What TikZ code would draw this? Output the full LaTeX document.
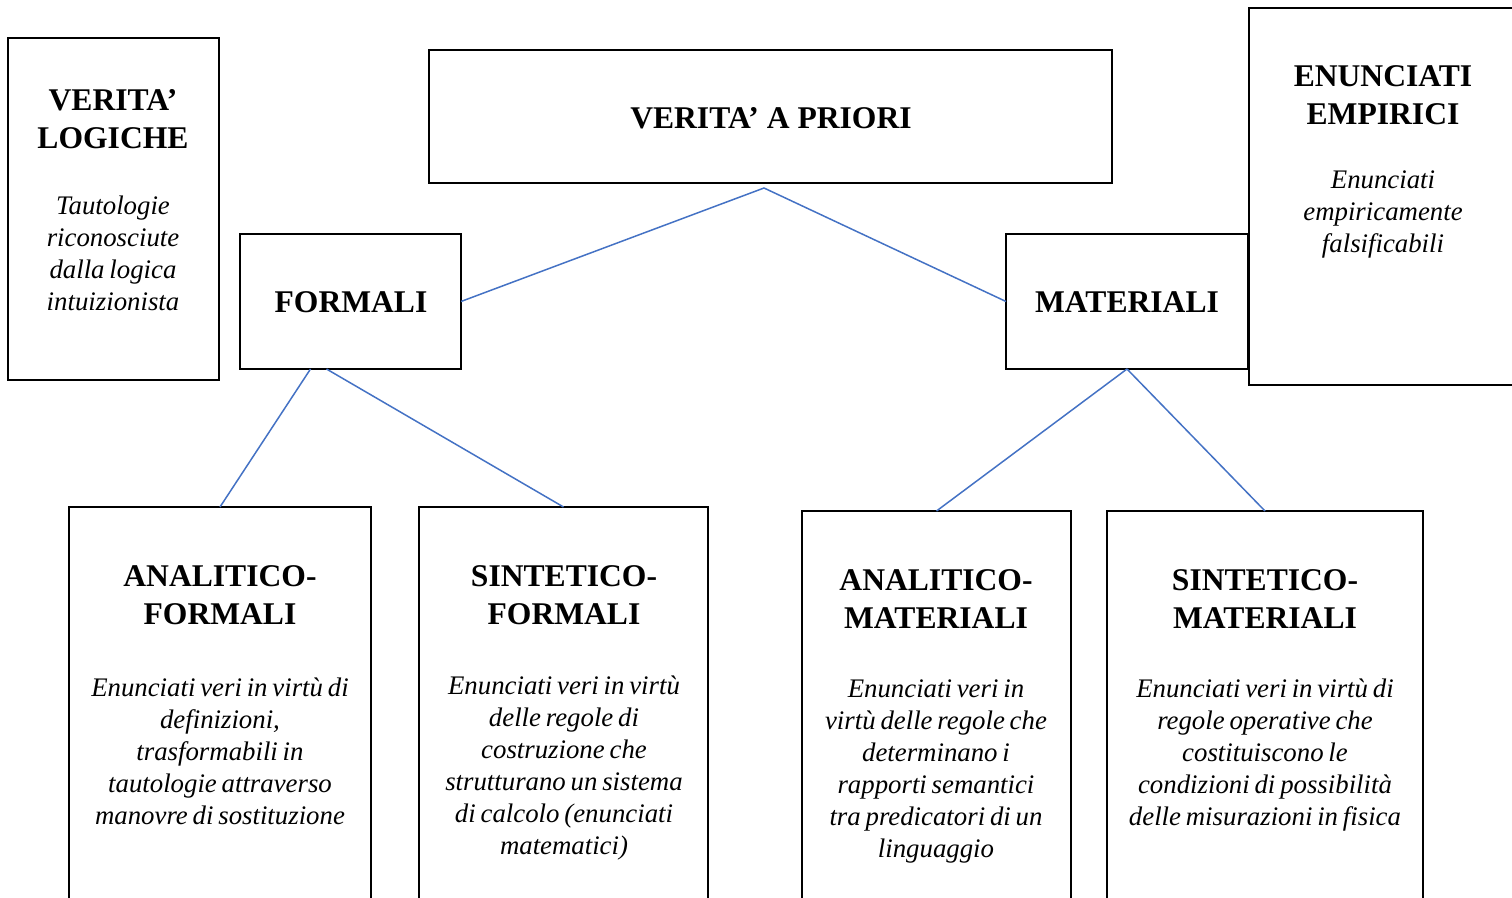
\documentclass[tikz,border=0pt]{standalone}
\usepackage{fontspec}
\setmainfont{Liberation Serif}
\usetikzlibrary{fit}
\definecolor{linkblue}{RGB}{68,114,196}
\newcommand\mydscfont{\fontsize{13.4}{16}\selectfont\itshape\spaceskip=0.18em plus 0.05em\relax}
\begin{document}
\begin{tikzpicture}[x=0.5pt,y=-0.5pt,
 box/.style={draw,line width=1pt,inner sep=0pt,outer sep=0pt},
 ttl/.style={font=\fontsize{15.8}{19}\selectfont\bfseries,align=center,inner sep=0pt},
 dsc/.style={font=\mydscfont,align=center,inner sep=0pt},
 link/.style={draw=linkblue,line width=0.75pt}]
\useasboundingbox (0,0) rectangle (1512,898);
\clip (0,0) rectangle (1512,898);
% boxes
\node[box,fit={(8,38) (219,380)}] (vl) {};
\node[box,fit={(429,50) (1112,183)}] (vap) {};
\node[box,fit={(240,234) (461,369)}] (formali) {};
\node[box,fit={(1006,234) (1248,369)}] (materiali) {};
\node[box,fit={(1249,8) (1530,385)}] (ee) {};
\node[box,fit={(69,507) (371,920)}] (af) {};
\node[box,fit={(419,507) (708,920)}] (sf) {};
\node[box,fit={(802,511) (1071,920)}] (am) {};
\node[box,fit={(1107,511) (1423,920)}] (sm) {};
% texts
\node[ttl] (vlT) at (113,119) {VERITA’\\LOGICHE};
\node[dsc] (vlD) at (113,253) {Tautologie\\riconosciute\\dalla logica\\intuizionista};
\node[ttl] (vapT) at (771,118) {VERITA’ A PRIORI};
\node[ttl] (formaliT) at (351,302) {FORMALI};
\node[ttl] (materialiT) at (1127,302) {MATERIALI};
\node[ttl] (eeT) at (1383,95) {ENUNCIATI\\EMPIRICI};
\node[dsc] (eeD) at (1383,214) {Enunciati\\empiricamente\\falsificabili};
\node[ttl] (afT) at (220,595) {ANALITICO-\\FORMALI};
\node[dsc] (afD) at (220,751) {Enunciati veri in virtù di\\definizioni,\\trasformabili in\\tautologie attraverso\\manovre di sostituzione};
\node[ttl] (sfT) at (564,595) {SINTETICO-\\FORMALI};
\node[dsc] (sfD) at (564,768) {Enunciati veri in virtù\\delle regole di\\costruzione che\\strutturano un sistema\\di calcolo (enunciati\\matematici)};
\node[ttl] (amT) at (936,599) {ANALITICO-\\MATERIALI};
\node[dsc] (amD) at (936,771) {Enunciati veri in\\virtù delle regole che\\determinano i\\rapporti semantici\\tra predicatori di un\\linguaggio};
\node[ttl] (smT) at (1265,599) {SINTETICO-\\MATERIALI};
\node[dsc] (smD) at (1265,755) {Enunciati veri in virtù di\\regole operative che\\costituiscono le\\condizioni di possibilità\\delle misurazioni in fisica};
% connectors
\coordinate (apex) at ([shift={(-3.25pt,-2.5pt)}]vap.south);
\draw[link] (formali.east) -- (apex) -- (materiali.west);
\draw[link] ([xshift=-20pt]formali.south) -- (af.north);
\draw[link] ([xshift=-12pt]formali.south) -- (sf.north);
\draw[link] (materiali.south) -- (am.north);
\draw[link] (materiali.south) -- (sm.north);
\end{tikzpicture}
\end{document}
